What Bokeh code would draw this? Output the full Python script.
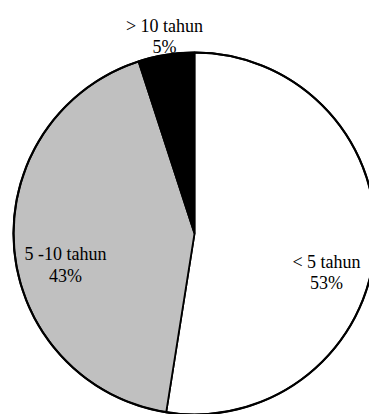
import math
from bokeh.plotting import figure
from bokeh.models import Range1d, ColumnDataSource
from bokeh.core.properties import value
from bokeh.embed import file_html
from bokeh.resources import INLINE

# ---- data ----
categories = ["< 5 tahun", "5 -10 tahun", "> 10 tahun"]
shares = [52.5, 42.5, 5.0]
pct_labels = ["53%", "43%", "5%"]
colors = ["#FFFFFF", "#C0C0C0", "#000000"]

# ---- layout ----
W, H = 369, 414
cx, cy = 194, H - 233
R = 181
# label anchors (pixel coords from top-left): name baseline, percent baseline
label_cx = [326, 65, 164]
name_base = [261, 253, 25]
pct_base = [282, 275, 46]

total = sum(shares)
starts, ends = [], []
cum = 0.0
for s in shares:
    starts.append(math.pi / 2 - 2 * math.pi * cum / total)
    cum += s
    ends.append(math.pi / 2 - 2 * math.pi * cum / total)

src = ColumnDataSource(dict(cat=categories, start=starts, end=ends, color=colors))

p = figure(frame_width=W, frame_height=H, output_backend="svg", toolbar_location=None,
           x_range=Range1d(0, W), y_range=Range1d(0, H), min_border=0,
           outline_line_color=None)
p.axis.visible = False
p.grid.visible = False
p.background_fill_color = "white"
p.border_fill_color = "white"

p.wedge(x=cx, y=cy, radius=R, start_angle="start", end_angle="end",
        direction="clock", fill_color="color", line_color="black",
        line_width=1.8, source=src)
p.circle(x=cx, y=cy, radius=R, fill_color=None, line_color="black", line_width=2.2)

lsrc = ColumnDataSource(dict(
    x=label_cx,
    yn=[H - v for v in name_base],
    yp=[H - v for v in pct_base],
    name=categories, pct=pct_labels))
common = dict(text_align="center", text_baseline="alphabetic",
              text_font=value("Liberation Serif"), text_font_size="18px",
              text_color="black", source=lsrc)
p.text(x="x", y="yn", text="name", **common)
p.text(x="x", y="yp", text="pct", **common)

open("out.html", "w").write(file_html(p, INLINE))
